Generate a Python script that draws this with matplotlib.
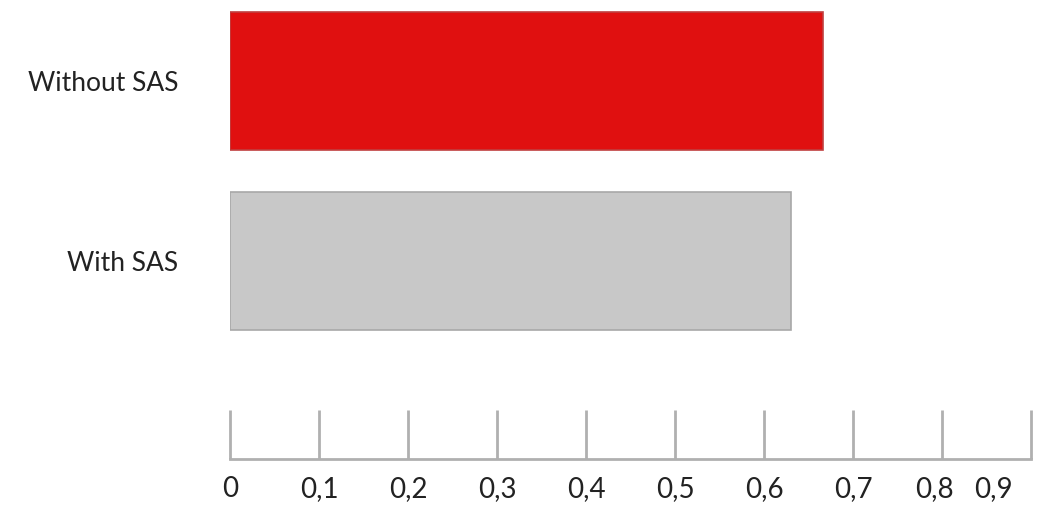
import matplotlib.pyplot as plt
import matplotlib.transforms as mtransforms

categories = ['With SAS', 'Without SAS']
values = [0.63, 0.666]
bar_colors = ['#c8c8c8', '#e01010']
edge_colors = ['#a8a8a8', '#c04040']

ticks = [0, 0.1, 0.2, 0.3, 0.4, 0.5, 0.6, 0.7, 0.8, 0.9]
tick_labels = ['0', '0,1', '0,2', '0,3', '0,4', '0,5', '0,6', '0,7', '0,8', '0,9']

plt.rcParams['font.family'] = ['Lato', 'DejaVu Sans']

fig = plt.figure(figsize=(10.43, 5.05), dpi=100)
ax = fig.add_axes([230 / 1043, 1 - 459 / 505, 801 / 1043, 459 / 505])

ypos = list(range(len(categories)))
ax.barh(ypos, values, height=0.767, color=bar_colors,
        edgecolor=edge_colors, linewidth=1.2)

ax.set_xlim(0, 0.9)
ax.set_ylim(-1.1, 1.45)

ax.set_yticks(ypos)
ax.set_yticklabels(categories, fontsize=19, color='#222222')
ax.tick_params(axis='y', length=0, pad=37)

ax.set_xticks(ticks)
ax.set_xticklabels(tick_labels, fontsize=20, color='#222222')
ax.tick_params(axis='x', direction='in', length=35, width=2, color='#b0b0b0', pad=12)

# last two labels sit a bit left of their ticks in the original
for lab, dx in zip(ax.get_xticklabels()[-2:], [-8, -38]):
    lab.set_transform(lab.get_transform() +
                      mtransforms.ScaledTranslation(dx / 100, 0, fig.dpi_scale_trans))

for side in ['top', 'right', 'left']:
    ax.spines[side].set_visible(False)
ax.spines['bottom'].set_color('#b0b0b0')
ax.spines['bottom'].set_linewidth(2)

fig.savefig('out.png', dpi=100)
